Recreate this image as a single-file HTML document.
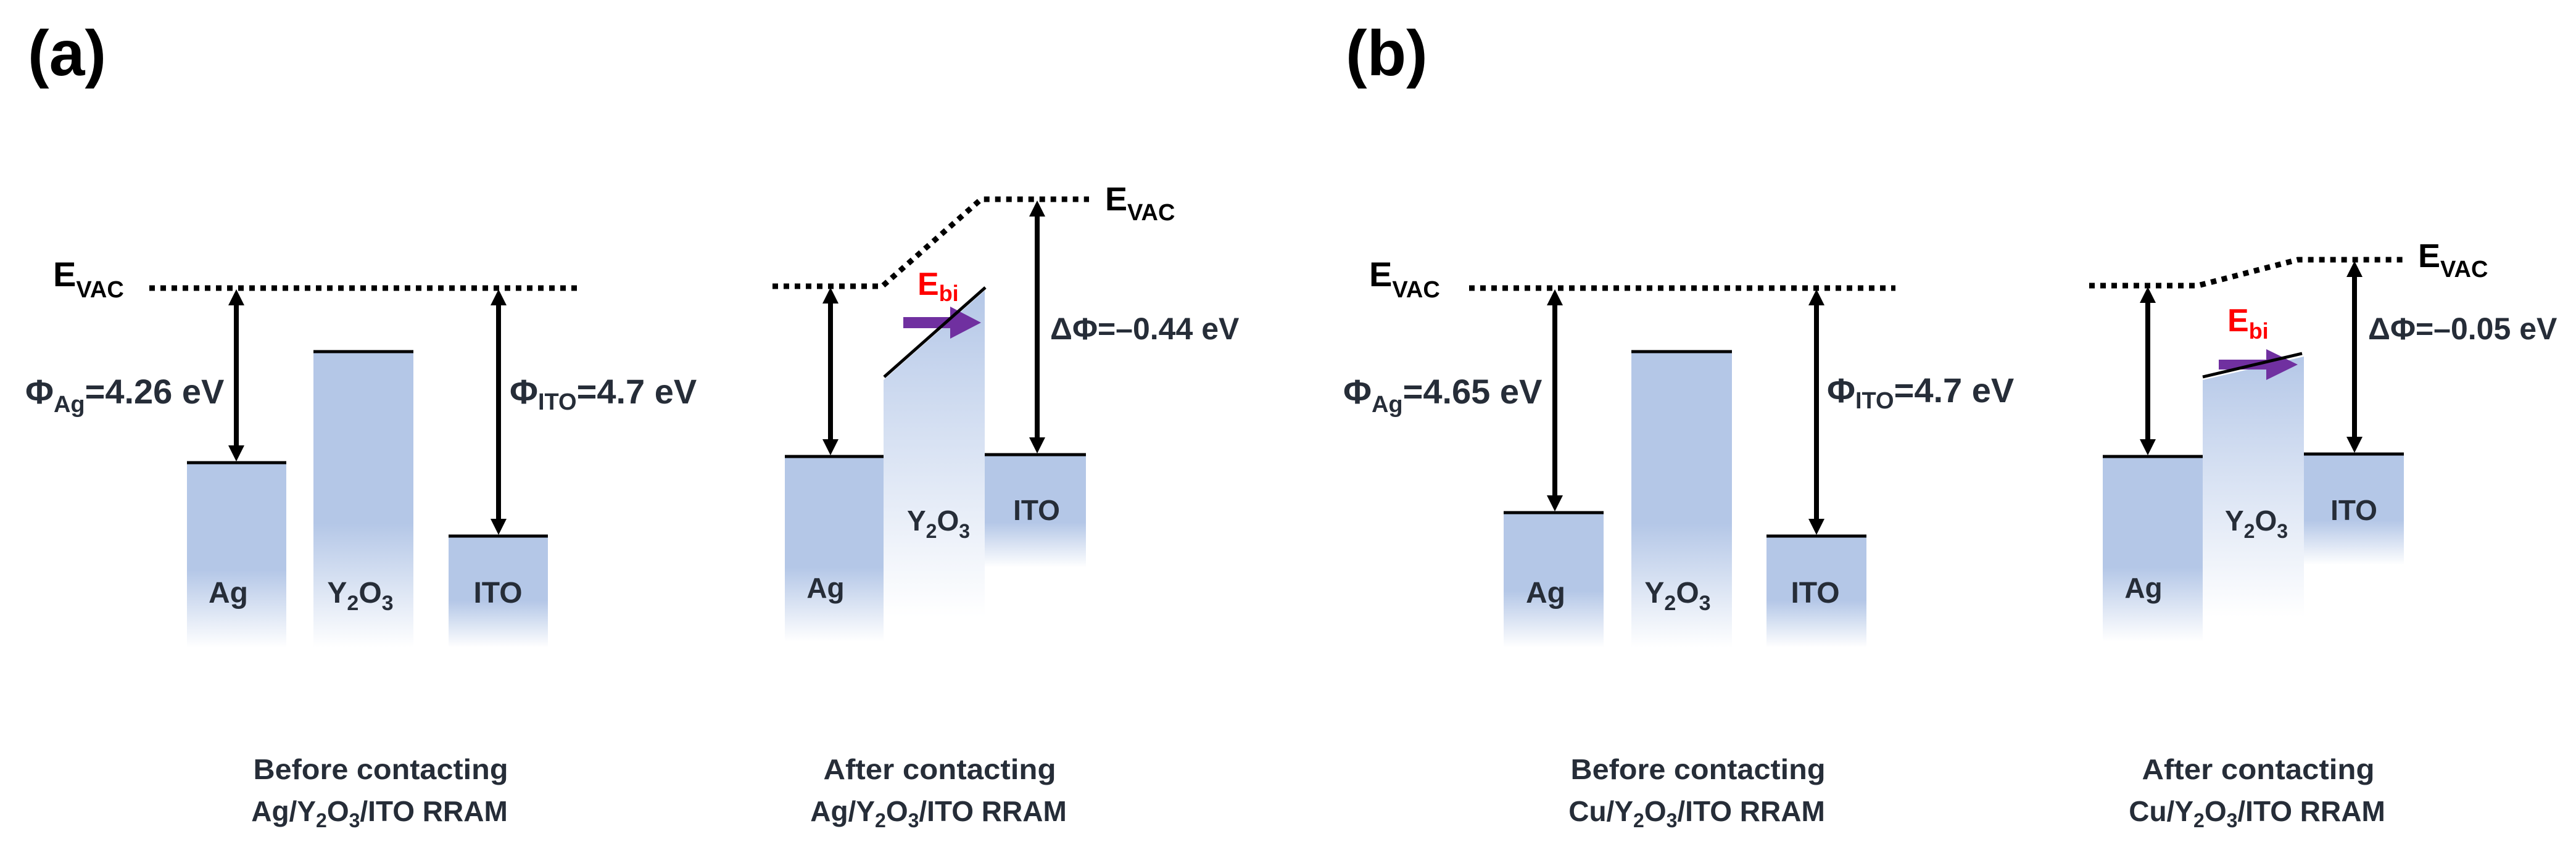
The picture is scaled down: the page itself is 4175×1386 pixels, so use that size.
<!DOCTYPE html>
<html><head><meta charset="utf-8"><style>
html,body{margin:0;padding:0;background:#fff;}
svg{display:block;}
text{font-family:"Liberation Sans",sans-serif;font-weight:bold;fill:#262d38;}
</style></head><body>
<svg width="4175" height="1386" viewBox="0 0 4175 1386" xmlns="http://www.w3.org/2000/svg">
<defs>
<linearGradient id="gm1" x1="0" y1="0" x2="0" y2="1"><stop offset="0" stop-color="#b4c7e7"/><stop offset="0.58" stop-color="#b4c7e7"/><stop offset="1" stop-color="#fff"/></linearGradient>
<linearGradient id="gox1" x1="0" y1="0" x2="0" y2="1"><stop offset="0" stop-color="#b4c7e7"/><stop offset="0.58" stop-color="#b4c7e7"/><stop offset="1" stop-color="#fff"/></linearGradient>
<linearGradient id="gmA" x1="0" y1="0" x2="0" y2="1"><stop offset="0" stop-color="#b4c7e7"/><stop offset="0.6" stop-color="#b4c7e7"/><stop offset="1" stop-color="#fff"/></linearGradient>
<linearGradient id="goxA" x1="0" y1="0" x2="0" y2="1"><stop offset="0" stop-color="#b4c7e7"/><stop offset="0.25" stop-color="#c8d6ee"/><stop offset="1" stop-color="#fff"/></linearGradient>
</defs>

<!-- ========== Panel a: before ========== -->
<text x="45" y="122" font-size="104" style="fill:#000">(a)</text>
<text x="86" y="464" font-size="56" style="fill:#000">E<tspan font-size="38" dy="18">VAC</tspan></text>
<line x1="242" y1="467" x2="937" y2="467" stroke="#000" stroke-width="9" stroke-dasharray="9 9"/>
<rect x="303" y="750" width="161" height="300" fill="url(#gm1)"/>
<rect x="508" y="570" width="162" height="480" fill="url(#gox1)"/>
<rect x="727" y="869" width="161" height="181" fill="url(#gm1)"/>
<line x1="303" y1="750" x2="464" y2="750" stroke="#000" stroke-width="5"/>
<line x1="508" y1="570" x2="670" y2="570" stroke="#000" stroke-width="5"/>
<line x1="727" y1="869" x2="888" y2="869" stroke="#000" stroke-width="5"/>
<line x1="383" y1="490" x2="383" y2="726" stroke="#000" stroke-width="8"/>
<polygon points="383,469 370,495 396,495" fill="#000"/><polygon points="383,748 370,722 396,722" fill="#000"/>
<line x1="808" y1="490" x2="808" y2="845" stroke="#000" stroke-width="8"/>
<polygon points="808,469 795,495 821,495" fill="#000"/><polygon points="808,867 795,841 821,841" fill="#000"/>
<text x="41" y="654" font-size="56">Φ<tspan font-size="38" dy="14">Ag</tspan><tspan dy="-14">=4.26 eV</tspan></text>
<text x="826" y="654" font-size="56">Φ<tspan font-size="38" dy="10">ITO</tspan><tspan dy="-10">=4.7 eV</tspan></text>
<text x="370" y="977" font-size="48" text-anchor="middle">Ag</text>
<text x="584" y="977" font-size="48" text-anchor="middle">Y<tspan font-size="34" dy="12">2</tspan><tspan dy="-12">O</tspan><tspan font-size="34" dy="12">3</tspan></text>
<text x="807" y="977" font-size="48" text-anchor="middle">ITO</text>
<text x="617" y="1263" font-size="46" text-anchor="middle" textLength="413" lengthAdjust="spacingAndGlyphs">Before contacting</text>
<text x="615" y="1331" font-size="46" text-anchor="middle">Ag/Y<tspan font-size="32" dy="10">2</tspan><tspan dy="-10">O</tspan><tspan font-size="32" dy="10">3</tspan><tspan dy="-10">/ITO RRAM</tspan></text>

<!-- ========== Panel a: after ========== -->
<polyline points="1252,464 1430,464 1590,323 1765,323" fill="none" stroke="#000" stroke-width="9" stroke-dasharray="9 9"/>
<text x="1791" y="341" font-size="54" style="fill:#000">E<tspan font-size="38" dy="16">VAC</tspan></text>
<rect x="1272" y="740" width="160" height="300" fill="url(#gmA)"/>
<polygon points="1432,616 1596,471 1596,1000 1432,1000" fill="url(#goxA)"/>
<rect x="1596" y="737" width="164" height="183" fill="url(#gmA)"/>
<line x1="1272" y1="740" x2="1432" y2="740" stroke="#000" stroke-width="5"/>
<line x1="1596" y1="737" x2="1760" y2="737" stroke="#000" stroke-width="5"/>
<line x1="1346" y1="488" x2="1346" y2="716" stroke="#000" stroke-width="8"/>
<polygon points="1346,466 1333,492 1359,492" fill="#000"/><polygon points="1346,738 1333,712 1359,712" fill="#000"/>
<line x1="1681" y1="347" x2="1681" y2="713" stroke="#000" stroke-width="8"/>
<polygon points="1681,325 1668,351 1694,351" fill="#000"/><polygon points="1681,735 1668,709 1694,709" fill="#000"/>
<rect x="1464" y="514" width="78" height="18" fill="#7030a0"/>
<polygon points="1540,497 1590,523 1540,549" fill="#7030a0"/>
<line x1="1433" y1="611" x2="1597" y2="466" stroke="#000" stroke-width="5"/>
<text x="1487" y="478" font-size="52" style="fill:#ff0000">E<tspan font-size="36" dy="10">bi</tspan></text>
<text x="1702" y="550" font-size="50">ΔΦ=–0.44 eV</text>
<text x="1338" y="969" font-size="46" text-anchor="middle">Ag</text>
<text x="1521" y="860" font-size="46" text-anchor="middle">Y<tspan font-size="32" dy="12">2</tspan><tspan dy="-12">O</tspan><tspan font-size="32" dy="12">3</tspan></text>
<text x="1680" y="843" font-size="46" text-anchor="middle">ITO</text>
<text x="1523" y="1263" font-size="46" text-anchor="middle" textLength="377" lengthAdjust="spacingAndGlyphs">After contacting</text>
<text x="1521" y="1331" font-size="46" text-anchor="middle">Ag/Y<tspan font-size="32" dy="10">2</tspan><tspan dy="-10">O</tspan><tspan font-size="32" dy="10">3</tspan><tspan dy="-10">/ITO RRAM</tspan></text>

<!-- ========== Panel b: before ========== -->
<text x="2181" y="122" font-size="104" style="fill:#000">(b)</text>
<text x="2219" y="464" font-size="56" style="fill:#000">E<tspan font-size="38" dy="18">VAC</tspan></text>
<line x1="2381" y1="467" x2="3072" y2="467" stroke="#000" stroke-width="9" stroke-dasharray="9 9"/>
<rect x="2437" y="831" width="162" height="219" fill="url(#gm1)"/>
<rect x="2644" y="570" width="163" height="480" fill="url(#gox1)"/>
<rect x="2863" y="869" width="162" height="181" fill="url(#gm1)"/>
<line x1="2437" y1="831" x2="2599" y2="831" stroke="#000" stroke-width="5"/>
<line x1="2644" y1="570" x2="2807" y2="570" stroke="#000" stroke-width="5"/>
<line x1="2863" y1="869" x2="3025" y2="869" stroke="#000" stroke-width="5"/>
<line x1="2520" y1="490" x2="2520" y2="807" stroke="#000" stroke-width="8"/>
<polygon points="2520,469 2507,495 2533,495" fill="#000"/><polygon points="2520,829 2507,803 2533,803" fill="#000"/>
<line x1="2944" y1="490" x2="2944" y2="845" stroke="#000" stroke-width="8"/>
<polygon points="2944,469 2931,495 2957,495" fill="#000"/><polygon points="2944,867 2931,841 2957,841" fill="#000"/>
<text x="2177" y="654" font-size="56">Φ<tspan font-size="38" dy="14">Ag</tspan><tspan dy="-14">=4.65 eV</tspan></text>
<text x="2961" y="652" font-size="56">Φ<tspan font-size="38" dy="10">ITO</tspan><tspan dy="-10">=4.7 eV</tspan></text>
<text x="2505" y="977" font-size="48" text-anchor="middle">Ag</text>
<text x="2719" y="977" font-size="48" text-anchor="middle">Y<tspan font-size="34" dy="12">2</tspan><tspan dy="-12">O</tspan><tspan font-size="34" dy="12">3</tspan></text>
<text x="2942" y="977" font-size="48" text-anchor="middle">ITO</text>
<text x="2752" y="1263" font-size="46" text-anchor="middle" textLength="413" lengthAdjust="spacingAndGlyphs">Before contacting</text>
<text x="2750" y="1331" font-size="46" text-anchor="middle">Cu/Y<tspan font-size="32" dy="10">2</tspan><tspan dy="-10">O</tspan><tspan font-size="32" dy="10">3</tspan><tspan dy="-10">/ITO RRAM</tspan></text>

<!-- ========== Panel b: after ========== -->
<polyline points="3386,463 3562,463 3724,421 3897,421" fill="none" stroke="#000" stroke-width="9" stroke-dasharray="9 9"/>
<text x="3919" y="433" font-size="54" style="fill:#000">E<tspan font-size="38" dy="16">VAC</tspan></text>
<rect x="3408" y="740" width="162" height="300" fill="url(#gmA)"/>
<polygon points="3570,616 3734,578 3734,1000 3570,1000" fill="url(#goxA)"/>
<rect x="3734" y="736" width="162" height="180" fill="url(#gmA)"/>
<line x1="3408" y1="740" x2="3570" y2="740" stroke="#000" stroke-width="5"/>
<line x1="3734" y1="736" x2="3896" y2="736" stroke="#000" stroke-width="5"/>
<line x1="3481" y1="487" x2="3481" y2="716" stroke="#000" stroke-width="8"/>
<polygon points="3481,465 3468,491 3494,491" fill="#000"/><polygon points="3481,738 3468,712 3494,712" fill="#000"/>
<line x1="3816" y1="445" x2="3816" y2="712" stroke="#000" stroke-width="8"/>
<polygon points="3816,423 3803,449 3829,449" fill="#000"/><polygon points="3816,734 3803,708 3829,708" fill="#000"/>
<rect x="3596" y="583" width="79" height="16" fill="#7030a0"/>
<polygon points="3673,566 3724,591 3673,616" fill="#7030a0"/>
<line x1="3570" y1="611" x2="3731" y2="573" stroke="#000" stroke-width="5"/>
<text x="3610" y="537" font-size="52" style="fill:#ff0000">E<tspan font-size="36" dy="12">bi</tspan></text>
<text x="3838" y="550" font-size="50">ΔΦ=–0.05 eV</text>
<text x="3474" y="969" font-size="46" text-anchor="middle">Ag</text>
<text x="3657" y="860" font-size="46" text-anchor="middle">Y<tspan font-size="32" dy="12">2</tspan><tspan dy="-12">O</tspan><tspan font-size="32" dy="12">3</tspan></text>
<text x="3815" y="843" font-size="46" text-anchor="middle">ITO</text>
<text x="3660" y="1263" font-size="46" text-anchor="middle" textLength="377" lengthAdjust="spacingAndGlyphs">After contacting</text>
<text x="3658" y="1331" font-size="46" text-anchor="middle">Cu/Y<tspan font-size="32" dy="10">2</tspan><tspan dy="-10">O</tspan><tspan font-size="32" dy="10">3</tspan><tspan dy="-10">/ITO RRAM</tspan></text>
</svg>
</body></html>
